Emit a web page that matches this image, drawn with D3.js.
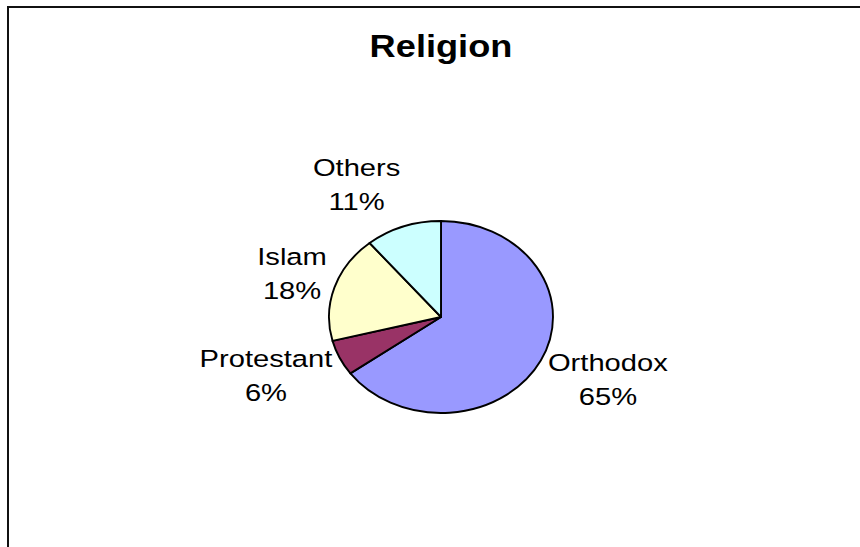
<!DOCTYPE html>
<html>
<head>
<meta charset="utf-8">
<script src="https://cdn.jsdelivr.net/npm/d3@7/dist/d3.min.js"></script>
<style>
  html, body { margin: 0; padding: 0; background: #fff; }
  svg { display: block; }
  text { font-family: "Liberation Sans", Arial, sans-serif; fill: #000; }
</style>
</head>
<body>
<svg id="chart" width="860" height="547"></svg>
<script>
// Religion shares (percent)
const categories = ["Orthodox", "Protestant", "Islam", "Others"];
const shares = [65, 6, 18, 11];
const sliceColors = ["#9999FF", "#993366", "#FFFFCC", "#CCFFFF"];
const chartTitle = "Religion";

const svg = d3.select("#chart");

// frame (top and left edges of the chart area)
svg.append("path")
  .attr("d", "M8,547 L8,7 L860,7")
  .attr("fill", "none")
  .attr("stroke", "#111")
  .attr("stroke-width", 2);

// the pie is drawn as a horizontally stretched disc
const cx = 441, cy = 317;
const rx = 112, ry = 96;
const sx = rx / ry;       // stretch of the pie
const labelSx = 1.19;     // stretch of the label text

svg.append("text")
  .attr("transform", `translate(441,57) scale(${sx * 0.985},1)`)
  .attr("text-anchor", "middle")
  .attr("font-size", 31.5)
  .attr("font-weight", "bold")
  .text(chartTitle);

const data = categories.map((c, i) => ({ name: c, value: shares[i], color: sliceColors[i] }));
const pie = d3.pie().sort(null).value(d => d.value);
const arcs = pie(data);
const arc = d3.arc().innerRadius(0).outerRadius(ry);

const pieG = svg.append("g")
  .attr("transform", `translate(${cx},${cy}) scale(${sx},1)`);

pieG.selectAll("path")
  .data(arcs)
  .join("path")
  .attr("d", arc)
  .attr("fill", d => d.data.color)
  .attr("stroke", "#000")
  .attr("stroke-width", 1.9)
  .attr("stroke-linejoin", "round")
  .attr("vector-effect", "non-scaling-stroke");

// data labels: name on first line, percentage on second, placed outside the rim
const fontSize = 24.5, lineGap = 34, gap = 8;
arcs.forEach(a => {
  const mid = (a.startAngle + a.endAngle) / 2;
  const s = Math.sin(mid), c = Math.cos(mid);
  const ax = cx + (rx + gap) * s;
  const ay = cy - (ry + gap) * c;

  const g = svg.append("g");
  const inner = g.append("g");
  const t1 = inner.append("text")
    .attr("text-anchor", "middle")
    .attr("font-size", fontSize)
    .attr("y", 0)
    .text(a.data.name);
  const t2 = inner.append("text")
    .attr("text-anchor", "middle")
    .attr("font-size", fontSize)
    .attr("y", lineGap)
    .text(d3.format(".0f")(a.data.value) + "%");

  const w = Math.max(t1.node().getComputedTextLength(), t2.node().getComputedTextLength()) * labelSx;
  const h = lineGap + fontSize * 0.72;
  const bx = ax + Math.sign(s) * w / 2;
  const by = ay - c * (h / 2 + 10) - 1;
  // baseline of first line relative to box centre
  const top = by - h / 2 + fontSize * 0.72;
  g.attr("transform", `translate(${bx},${top})`);
  inner.attr("transform", `scale(${labelSx},1)`);
});
</script>
</body>
</html>
